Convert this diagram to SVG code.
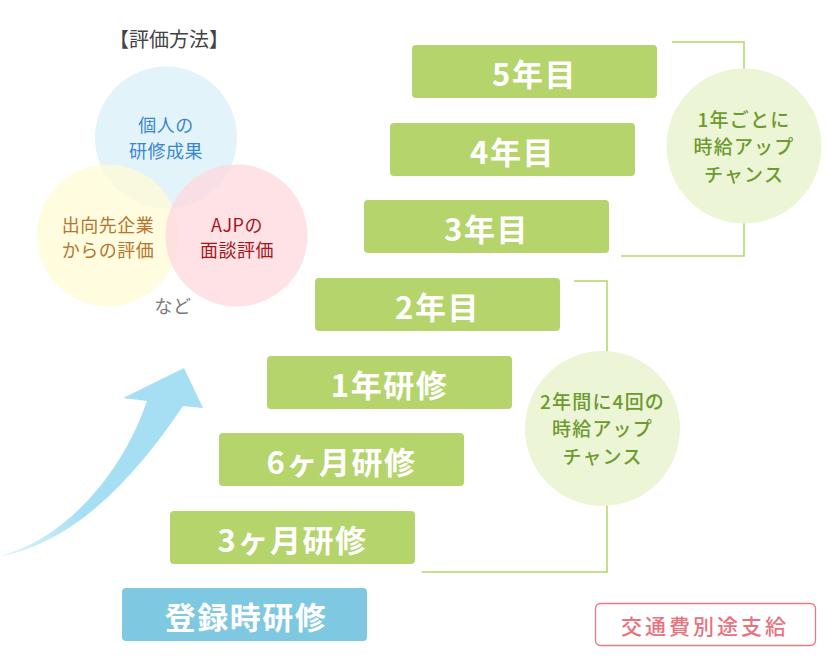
<svg xmlns="http://www.w3.org/2000/svg" width="830" height="670" viewBox="0 0 830 670">
<defs>
<style>
.box{fill:#b5d46b}
.reg{fill:#7fc8e2}
.bt{font-family:"Noto Sans CJK JP","Noto Sans",sans-serif;font-weight:bold;font-size:31px;fill:#fff;text-anchor:middle;dominant-baseline:central;letter-spacing:1.5px}
.br{fill:none;stroke:#b5d46b;stroke-width:1.5}
.gc{fill:#ecf5d6}
.gt{font-family:"Noto Sans CJK JP","Noto Sans",sans-serif;font-weight:500;font-size:19px;fill:#6e9a2f;text-anchor:middle;letter-spacing:1.2px}
.vt{font-family:"Noto Sans CJK JP","Noto Sans",sans-serif;font-size:18px;text-anchor:middle;letter-spacing:0.5px}
</style>
<linearGradient id="ag" gradientUnits="userSpaceOnUse" x1="0" y1="556" x2="180" y2="380">
<stop offset="0" stop-color="#e2f4fb"/>
<stop offset="0.35" stop-color="#a6dff3"/>
<stop offset="1" stop-color="#a6dff3"/>
</linearGradient>
</defs>
<rect width="830" height="670" fill="#fff"/>

<g id="venn">
<circle cx="166" cy="137.5" r="71" fill="#e3f3fa"/>
<circle cx="108" cy="235.5" r="71" fill="#fffbd6" fill-opacity="0.75"/>
<circle cx="236.5" cy="235.5" r="71" fill="#fdd8de" fill-opacity="0.75"/>
<text x="169" y="47" font-family="'Noto Sans CJK JP',sans-serif" font-size="20" fill="#444" text-anchor="middle">【評価方法】</text>
<text class="vt" x="166" y="132" fill="#3b86cf">個人の</text>
<text class="vt" x="166" y="158" fill="#3b86cf">研修成果</text>
<text class="vt" x="108" y="232" fill="#b5752d">出向先企業</text>
<text class="vt" x="108" y="257" fill="#b5752d">からの評価</text>
<text class="vt" x="237" y="232" fill="#a5161b">AJPの</text>
<text class="vt" x="237" y="257" fill="#a5161b">面談評価</text>
<text class="vt" x="173" y="313" fill="#777">など</text>
</g>

<g id="arrow">
<path d="M3,555 C60,540 120,480 147,401 L123,398 L184,368 L203,408 L183,406 C140,470 80,540 3,556 Z" fill="url(#ag)"/>
</g>

<g id="connectors">
<polyline class="br" points="672,42 744,42 744,256 621,256"/>
<polyline class="br" points="574,281 607,281 607,572 422,572"/>
</g>

<g id="n5"><rect class="box" x="412" y="45" width="245" height="53" rx="4"/><text class="bt" x="534.5" y="72">5年目</text></g>
<g id="n4"><rect class="box" x="390" y="123" width="245" height="53" rx="4"/><text class="bt" x="512.5" y="150">4年目</text></g>
<g id="n3"><rect class="box" x="364" y="200" width="245" height="53" rx="4"/><text class="bt" x="486.5" y="227">3年目</text></g>
<g id="n2"><rect class="box" x="315" y="278" width="245" height="53" rx="4"/><text class="bt" x="437.5" y="305">2年目</text></g>
<g id="n1y"><rect class="box" x="267" y="356" width="245" height="53" rx="4"/><text class="bt" x="389.5" y="383">1年研修</text></g>
<g id="n6m"><rect class="box" x="219" y="433" width="245" height="53" rx="4"/><text class="bt" x="341.5" y="460">6ヶ月研修</text></g>
<g id="n3m"><rect class="box" x="170" y="511" width="245" height="53" rx="4"/><text class="bt" x="292.5" y="538">3ヶ月研修</text></g>
<g id="nreg"><rect class="reg" x="122" y="588" width="245" height="53" rx="4"/><text class="bt" x="246" y="615">登録時研修</text></g>

<g id="c1">
<circle class="gc" cx="744" cy="146" r="77.5"/>
<text class="gt" x="744" y="126.5">1年ごとに</text>
<text class="gt" x="744" y="154">時給アップ</text>
<text class="gt" x="744" y="181.5">チャンス</text>
</g>
<g id="c2">
<circle class="gc" cx="602.5" cy="428.5" r="77.5"/>
<text class="gt" x="602.5" y="408.5">2年間に4回の</text>
<text class="gt" x="602.5" y="436">時給アップ</text>
<text class="gt" x="602.5" y="463.5">チャンス</text>
</g>

<g id="fare">
<rect x="595.5" y="603.5" width="220" height="42" rx="5" fill="#fff" stroke="#e87a85" stroke-width="1.3"/>
<text x="705" y="625" font-family="'Noto Sans CJK JP',sans-serif" font-weight="500" font-size="21" fill="#e8737f" text-anchor="middle" dominant-baseline="central" letter-spacing="3">交通費別途支給</text>
</g>
</svg>
